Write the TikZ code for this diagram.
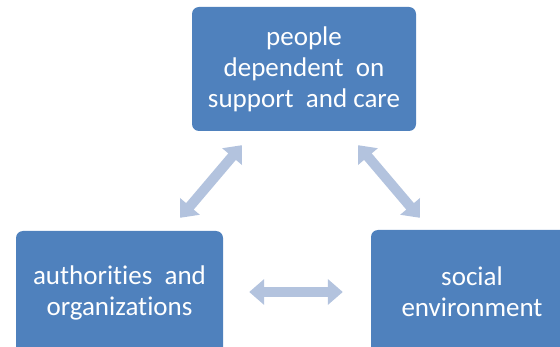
\documentclass[tikz,border=0pt]{standalone}
\usepackage{fontspec}
\setmainfont{Carlito}[Ligatures=NoCommon]
\usetikzlibrary{arrows.meta,calc}
\definecolor{boxblue}{HTML}{4F81BD}
\definecolor{arrowblue}{HTML}{B3C3DE}
\tikzset{
  bx/.style={rectangle, rounded corners=7pt, minimum height=124pt, text centered, align=center, fill=boxblue, text=white, font=\fontsize{27}{31}\selectfont},
  dbl/.style={draw=arrowblue, line width=10pt, {Triangle[width=25pt,length=15pt]}-{Triangle[width=25pt,length=15pt]}}
}
\begin{document}
\begin{tikzpicture}[x=1pt, y=-1pt]
	\useasboundingbox (0,0) rectangle (560,347);
	\node[bx, minimum width=224pt] (care) at (304,69) {people\\dependent~ on\\support~ and care};
	\node[bx, minimum width=207pt] (auth) at (119.5,293) {authorities~ and\\organizations};
	\node[bx, minimum width=202pt] (env) at (472,292) {social\\environment};
	\draw[dbl] ($(auth.north east)+(-43,-13)$) -- ($(care.south west)+(50,14)$);
	\draw[dbl] ($(care.south east)+(-58,14)$) -- ($(env.north west)+(49,-12)$);
	\draw[dbl] ($(auth.east)+(26,-1)$) -- ($(env.west)+(-28,0)$);
\end{tikzpicture}
\end{document}
